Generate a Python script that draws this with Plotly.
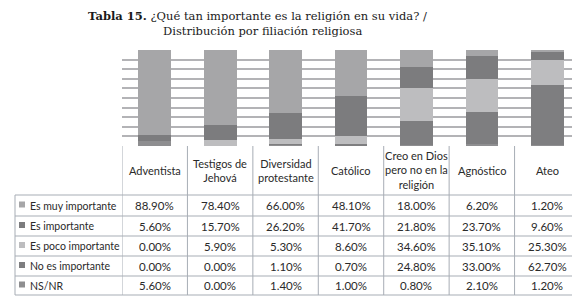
import plotly.graph_objects as go

categories = ["Adventista", "Testigos de<br>Jehová", "Diversidad<br>protestante", "Católico",
              "Creo en Dios<br>pero no en la<br>religión", "Agnóstico", "Ateo"]
series_names = ["Es muy importante", "Es importante", "Es poco importante", "No es importante", "NS/NR"]
muy_importante = [88.9, 78.4, 66.0, 48.1, 18.0, 6.2, 1.2]
importante = [5.6, 15.7, 26.2, 41.7, 21.8, 23.7, 9.6]
poco_importante = [0.0, 5.9, 5.3, 8.6, 34.6, 35.1, 25.3]
no_importante = [0.0, 0.0, 1.1, 0.7, 24.8, 33.0, 62.7]
ns_nr = [5.6, 0.0, 1.4, 1.0, 0.8, 2.1, 1.2]

series_values = [muy_importante, importante, poco_importante, no_importante, ns_nr]
colors = ["#a6a6a8", "#7c7c7e", "#bdbdbf", "#7e7e80", "#8e8e90"]

W, H = 580, 299
def py(y):
    return 1 - y / H
def px(x):
    return x / W

x_idx = list(range(len(categories)))
fig = go.Figure()
# stacked bottom-to-top: NS/NR, No es, poco, importante, muy
for k in [4, 3, 2, 1, 0]:
    fig.add_trace(go.Bar(x=x_idx, y=series_values[k], name=series_names[k],
                         marker=dict(color=colors[k], line=dict(width=0)), width=0.5))

fig.update_layout(
    barmode="stack", width=W, height=H, margin=dict(l=0, r=0, t=0, b=0),
    paper_bgcolor="white", plot_bgcolor="white", showlegend=False,
    xaxis=dict(range=[-0.5, 6.5], domain=[px(114), px(572)], showticklabels=False,
               showgrid=False, zeroline=False, fixedrange=True),
    yaxis=dict(range=[0, 100], domain=[py(138), py(42)], dtick=10, showticklabels=False,
               showgrid=True, gridcolor="#b3b3b6", gridwidth=1.8, zeroline=False),
)

line_col = "#a7adb5"
shapes = []
# vertical dividers (category boundaries) down through table
for i in range(len(categories) + 1):
    shapes.append(dict(type="line", xref="x", yref="paper", x0=i - 0.5, x1=i - 0.5,
                       y0=py(138), y1=py(287), line=dict(color=line_col, width=1)))
# row-header box left edge
shapes.append(dict(type="line", xref="paper", yref="paper", x0=px(7), x1=px(7),
                   y0=py(187), y1=py(287), line=dict(color=line_col, width=1)))
row_lines = [187, 208, 228, 248, 268, 287]
for yl in row_lines:
    shapes.append(dict(type="line", xref="paper", yref="paper", x0=px(7), x1=px(572),
                       y0=py(yl), y1=py(yl), line=dict(color=line_col, width=1)))
row_centers = [(row_lines[j] + row_lines[j + 1]) / 2 for j in range(5)]
# legend keys in the row headers
for j in range(5):
    yc = row_centers[j]
    shapes.append(dict(type="rect", xref="paper", yref="paper", x0=px(11), x1=px(17),
                       y0=py(yc - 4), y1=py(yc + 2), line=dict(width=0), fillcolor=colors[j]))
fig.update_layout(shapes=shapes)

font_head = dict(family="Lato, Open Sans, sans-serif", size=11, color="#2a2a2a")
font_lab = dict(family="Lato, Open Sans, sans-serif", size=10.5, color="#2a2a2a")
font_val = dict(family="Lato, Open Sans, sans-serif", size=11.5, color="#2a2a2a")
title_font = dict(family="DejaVu Serif, serif", size=11.5, color="#1a1a1a")
ann = []
# title
ann.append(dict(xref="paper", yref="paper", x=px(250), y=py(8), xanchor="center", yanchor="middle",
                text="<b>Tabla 15.</b> ¿Qué tan importante es la religión en su vida? /",
                showarrow=False, font=title_font))
ann.append(dict(xref="paper", yref="paper", x=px(254), y=py(23), xanchor="center", yanchor="middle",
                text="Distribución por filiación religiosa",
                showarrow=False, font=title_font))
# headers
for i, c in enumerate(categories):
    ann.append(dict(xref="x", yref="paper", x=i, y=py(162), xanchor="center", yanchor="middle",
                    text=c, showarrow=False, font=font_head, align="center"))
# rows
for j, name in enumerate(series_names):
    yc = py(row_centers[j])
    ann.append(dict(xref="paper", yref="paper", x=px(20), y=yc, xanchor="left", yanchor="middle",
                    text=name, showarrow=False, font=font_lab))
    for i, v in enumerate(series_values[j]):
        ann.append(dict(xref="x", yref="paper", x=i, y=yc, xanchor="center", yanchor="middle",
                        text=f"{v:.2f}%", showarrow=False, font=font_val))
fig.update_layout(annotations=ann)

fig.write_html("out.html")
